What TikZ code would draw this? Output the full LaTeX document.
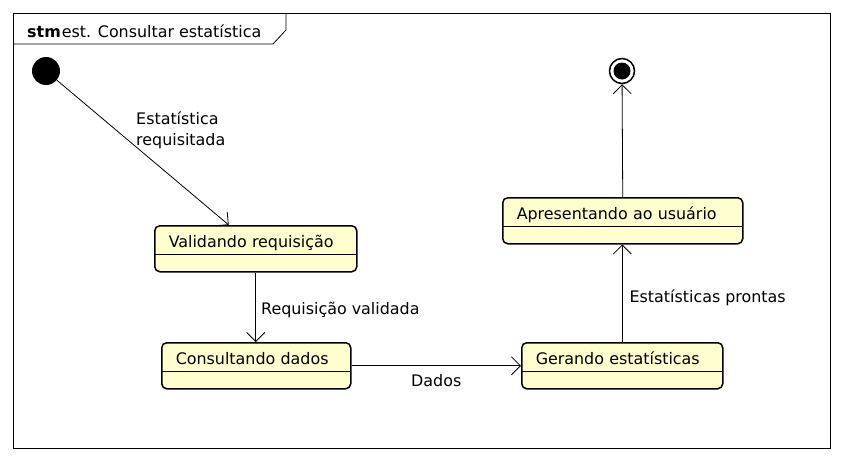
\documentclass[tikz,border=0pt]{standalone}
\usepackage{fontspec}
\setmainfont{DejaVu Sans}
\usetikzlibrary{arrows.meta, positioning}
\definecolor{stfill}{HTML}{FEFECE}

\begin{document}
\begin{tikzpicture}[
        x=1pt, y=-1pt,
        every node/.style={font=\fontsize{15.9}{19}\selectfont},
        state/.style={draw, line width=1.5pt, rounded corners=5pt, fill=stfill, anchor=north west,
            align=left, inner xsep=14pt, inner ysep=8pt, text height=14pt, text depth=16pt,
            path picture={\draw[line width=1pt] ([yshift=-29pt]path picture bounding box.north west) -- ([yshift=-29pt]path picture bounding box.north east);}},
        lbl/.style={inner sep=0pt, align=left},
        arr/.style={-{Straight Barb[length=9pt, width=18pt]}, line width=0.8pt}
    ]
        % frame and title tab
        \useasboundingbox (0,0) rectangle (844,461);
        \draw[line width=0.8pt] (13,13) rectangle (830,448);
        \draw[line width=0.8pt] (13,44) -- (273,44) -- (286,30) -- (286,13);
        \node[lbl, anchor=base west] (title) at (27,37) {\textbf{stm}\hspace{1pt}est. Consultar estatística};

        % start and end
        \node[circle, fill=black, minimum size=28pt, inner sep=0pt] (ini) at (46,71) {};
        \node[circle, draw, line width=1.5pt, minimum size=25pt, inner sep=0pt] (fin) at (622,71) {};
        \fill (fin.center) circle[radius=8.5pt];

        % states
        \node[state, text width=174pt] (val) at (154,225) {Validando requisição};
        \node[state, text width=161pt] (con) at (161,342) {Consultando dados};
        \node[state, text width=173pt] (ger) at (521,342) {Gerando estatísticas};
        \node[state, text width=212pt] (apr) at (502,197) {Apresentando ao usuário};

        % transitions
        \draw[arr] (ini) -- ([xshift=-27pt]val.north);
        \node[lbl, anchor=north west] (lreq) at (136,112) {Estatística\\[2pt]requisitada};
        \draw[arr] (val.south) -- node[lbl, right=5pt, yshift=-3pt] (lval) {Requisição validada} (val.south |- con.north);
        \draw[arr] (con.east) -- node[lbl, below=8pt] (ldad) {Dados} (ger.west);
        \draw[arr] (ger.north) -- node[lbl, right=7pt, yshift=-5pt] (lpro) {Estatísticas prontas} (ger.north |- apr.south);
        \draw[arr] (apr.north) -- (fin);
    \end{tikzpicture}
\end{document}
